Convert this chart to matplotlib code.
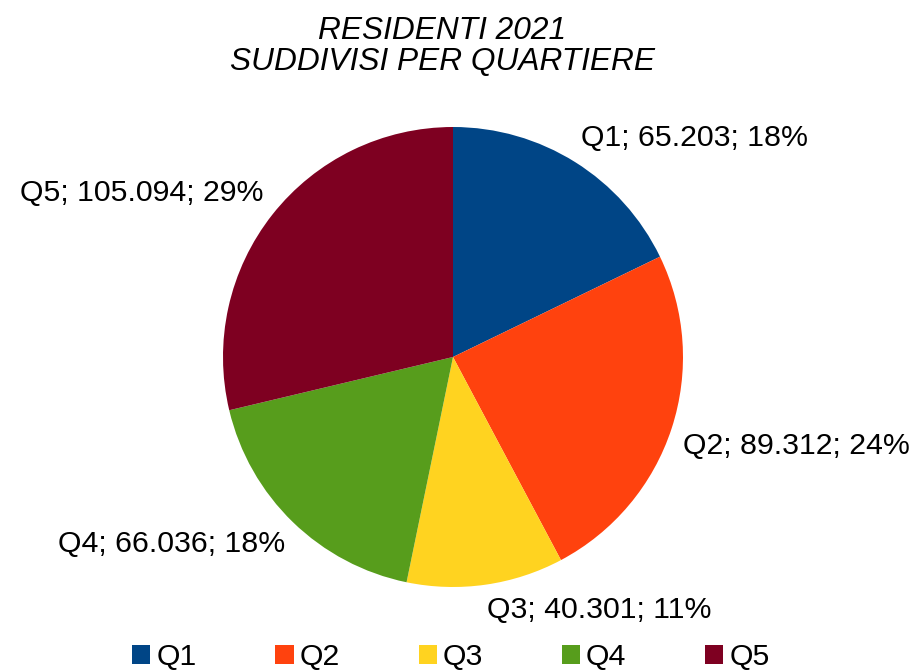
import numpy as np
import matplotlib.pyplot as plt
from matplotlib.patches import Patch

plt.rcParams['font.family'] = ['Liberation Sans', 'DejaVu Sans']

quartieri = ['Q1', 'Q2', 'Q3', 'Q4', 'Q5']
residenti = [65203, 89312, 40301, 66036, 105094]
percentuali = ['18%', '24%', '11%', '18%', '29%']
valori_txt = ['65.203', '89.312', '40.301', '66.036', '105.094']
colori = ['#004586', '#ff420e', '#ffd320', '#579d1c', '#7e0021']

W, H = 914, 670
fig = plt.figure(figsize=(W / 100, H / 100), dpi=100)
# pie centre (453, 357) px, raggio 230 px
ax = fig.add_axes([(453 - 230) / W, (H - 357 - 230) / H, 460 / W, 460 / H])

wedges, _ = ax.pie(residenti, colors=colori, startangle=90, counterclock=False,
                   radius=1.0, wedgeprops=dict(linewidth=0))
ax.set_xlim(-1, 1)
ax.set_ylim(-1, 1)
ax.set_aspect('equal')
ax.axis('off')

for w, q, v, p in zip(wedges, quartieri, valori_txt, percentuali):
    ang = np.deg2rad((w.theta1 + w.theta2) / 2)
    x, y = 1.05 * np.cos(ang), 1.05 * np.sin(ang)
    ha = 'left' if x > 0 else 'right'
    va = 'bottom' if y > 0 else 'top'
    ax.text(x, y, f'{q}; {v}; {p}', ha=ha, va=va, fontsize=21.8, color='black')

fig.text(442 / W, 1 - 31 / H, 'RESIDENTI 2021', ha='center', va='center',
         fontsize=22.8, style='italic')
fig.text(442 / W, 1 - 62 / H, 'SUDDIVISI PER QUARTIERE', ha='center', va='center',
         fontsize=22.8, style='italic')

handles = [Patch(facecolor=c, edgecolor='none') for c in colori]
fig.legend(handles, quartieri, loc='center', bbox_to_anchor=(451 / W, 1 - 657 / H),
           ncol=5, frameon=False, fontsize=21.8, handlelength=0.6, handleheight=0.6,
           handletextpad=0.2, columnspacing=2.6, borderpad=0)

fig.savefig('out.png', dpi=100, facecolor='white')
